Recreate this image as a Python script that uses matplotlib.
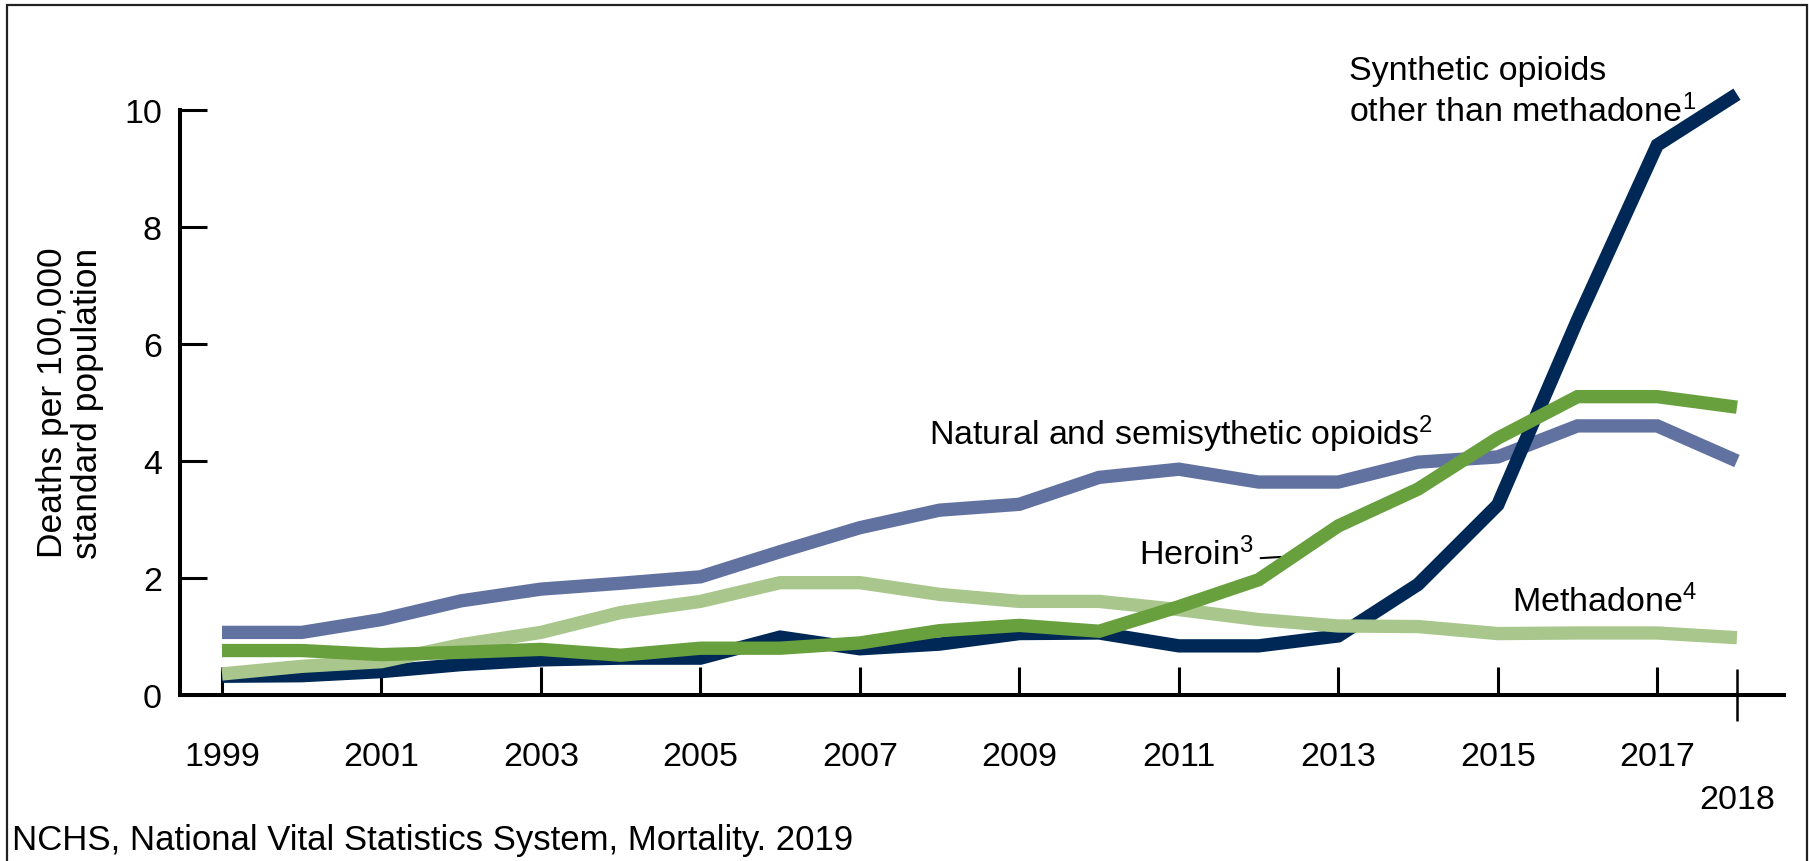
import matplotlib
matplotlib.use("Agg")
import matplotlib.pyplot as plt
from matplotlib import font_manager
from matplotlib.patches import Rectangle

# Age-adjusted drug overdose death rates by opioid type, 1999-2018
years = list(range(1999, 2019))
synthetic = [0.32, 0.33, 0.40, 0.52, 0.60, 0.63, 0.63, 0.99, 0.79, 0.87,
             1.05, 1.06, 0.84, 0.84, 1.01, 1.89, 3.25, 6.41, 9.40, 10.27]
natural = [1.07, 1.07, 1.29, 1.61, 1.81, 1.91, 2.02, 2.45, 2.86, 3.16,
           3.26, 3.72, 3.86, 3.64, 3.64, 3.98, 4.07, 4.60, 4.60, 4.00]
heroin = [0.76, 0.76, 0.69, 0.73, 0.78, 0.68, 0.80, 0.80, 0.89, 1.10,
          1.19, 1.09, 1.51, 1.97, 2.89, 3.52, 4.39, 5.10, 5.10, 4.92]
methadone = [0.36, 0.49, 0.57, 0.86, 1.07, 1.41, 1.60, 1.92, 1.92, 1.72,
             1.60, 1.60, 1.46, 1.29, 1.18, 1.17, 1.05, 1.06, 1.06, 0.98]

xticks = list(range(1999, 2018, 2))
yticks = [0, 2, 4, 6, 8, 10]

names = {f.name for f in font_manager.fontManager.ttflist}
narrow = "Liberation Sans Narrow" if "Liberation Sans Narrow" in names else "Liberation Sans"
regular = "Liberation Sans"

plt.rcParams["font.family"] = [narrow, "DejaVu Sans"]
plt.rcParams["mathtext.fontset"] = "custom"
plt.rcParams["mathtext.rm"] = narrow
plt.rcParams["mathtext.it"] = narrow
plt.rcParams["mathtext.bf"] = narrow

W, H = 1809, 862
fig = plt.figure(figsize=(W / 100, H / 100), dpi=100)

# axes placed in pixel terms of the reference
ax = fig.add_axes([180 / W, (H - 696) / H, (1784 - 180) / W, (696 - 64.2) / H])
ax.set_xlim(1998.473, 2018.59)
ax.set_ylim(0, 10.8)

lw = 9.6
style = dict(lw=lw, solid_joinstyle="miter", solid_capstyle="butt")
ax.plot(years, natural, color="#6272A0", zorder=2, **style)
ax.plot(years, synthetic, color="#002856", zorder=3, **style)
ax.plot(years, methadone, color="#A9C78D", zorder=4, **style)
ax.plot(years, heroin, color="#68A03E", zorder=5, **style)

for s in ["top", "right"]:
    ax.spines[s].set_visible(False)
ax.spines["left"].set_bounds(0, 10)
ax.spines["left"].set_linewidth(2.9)
ax.spines["bottom"].set_linewidth(2.9)

ax.set_yticks(yticks)
ax.set_yticklabels([str(v) for v in yticks])
ax.set_xticks(xticks)
ax.set_xticklabels([str(v) for v in xticks])
ax.set_xticks([2018], minor=True)
ax.set_xticklabels(["2018"], minor=True)

fs = 24.5
ax.tick_params(axis="y", direction="in", length=19.4, width=2.2, pad=13, labelsize=fs)
ax.tick_params(axis="x", which="major", direction="in", length=20, width=2.2, pad=33, labelsize=fs)
ax.tick_params(axis="x", which="minor", direction="inout", length=38, width=1.8, pad=45, labelsize=fs)

fig.text(70 / W, (H - 403) / H, "Deaths per 100,000\nstandard population",
         rotation=90, ha="center", va="center", fontsize=25.5, linespacing=1.1)

# series labels
ax.text(2013.14, 10.53, "Synthetic opioids", fontsize=fs, va="baseline", ha="left")
ax.text(2013.14, 9.81, r"other than methadone$^{1}$", fontsize=fs, va="baseline", ha="left")
ax.text(2007.87, 4.29, r"Natural and semisythetic opioids$^{2}$", fontsize=fs, va="baseline", ha="left")
ax.annotate(r"Heroin$^{3}$", xy=(2012.28, 2.36), xytext=(2010.50, 2.24), fontsize=fs,
            va="baseline", ha="left",
            arrowprops=dict(arrowstyle="-", lw=1.5, color="black", shrinkA=3, shrinkB=0,
                            relpos=(1.0, 0.36)))
ax.text(2015.18, 1.44, r"Methadone$^{4}$", fontsize=fs, va="baseline", ha="left")

fig.text(12 / W, (H - 850) / H, "NCHS, National Vital Statistics System, Mortality. 2019",
         fontsize=25, family=regular, ha="left", va="baseline")

# outer frame (bottom edge falls outside the image)
fig.add_artist(Rectangle((7 / W, -0.05), 1800 / W, 1.05 - 6 / H, transform=fig.transFigure,
                         fill=False, edgecolor="#222222", lw=1.6, clip_on=False))

fig.savefig("out.png", dpi=100)
